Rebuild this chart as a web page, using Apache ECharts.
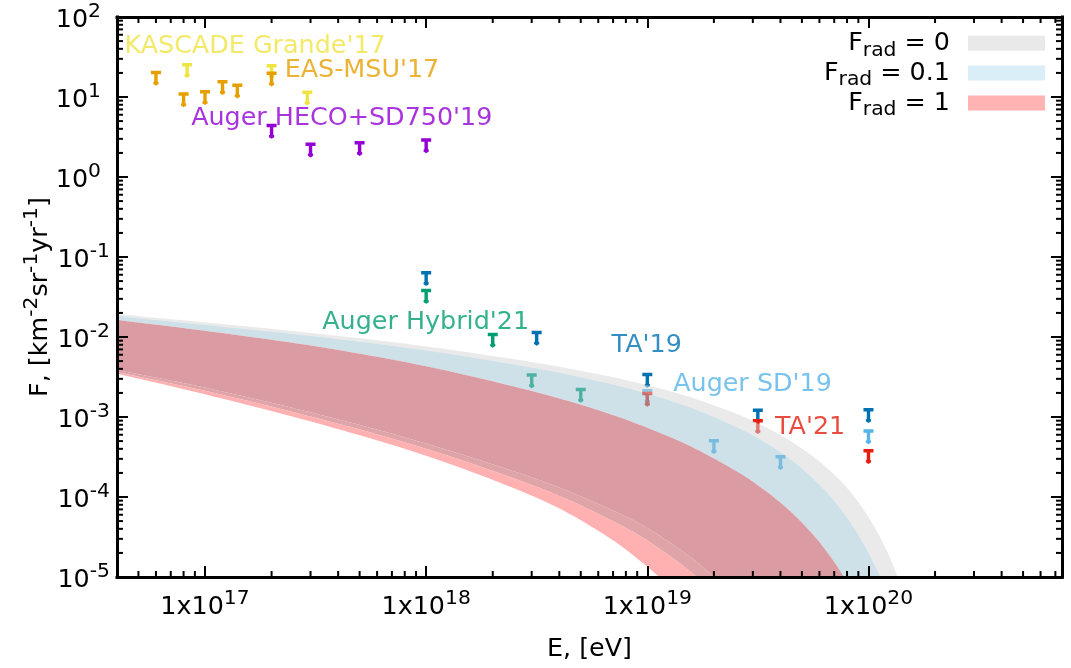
<!DOCTYPE html>
<html>
<head>
<meta charset="utf-8">
<script src="https://cdn.jsdelivr.net/npm/echarts@6/dist/echarts.min.js"></script>
<style>html,body{margin:0;padding:0;background:#fff}#chart{width:1071px;height:668px}</style>
</head>
<body>
<div id="chart"></div>
<script>
// ---------- data ----------
// band boundaries: energy samples E [eV] and flux F [km^-2 sr^-1 yr^-1]
const bandE = [3.162e16, 3.981e16, 1e17, 3.162e17, 1e18, 3.162e18, 6.310e18, 1e19, 1.585e19, 2.512e19, 3.162e19, 3.981e19, 5.012e19, 6.310e19, 7.943e19, 1e20, 1.259e20, 1.585e20];
const frad0Upper  = [2.060e-2, 1.939e-2, 1.522e-2, 1.109e-2, 7.628e-3, 4.746e-3, 3.331e-3, 2.498e-3, 1.748e-3, 1.103e-3, 8.318e-4, 5.974e-4, 4.016e-4, 2.462e-4, 1.326e-4, 5.590e-5, 1.669e-5, 2.968e-6];
const frad01Upper = [1.953e-2, 1.830e-2, 1.413e-2, 1.015e-2, 6.781e-3, 4.039e-3, 2.716e-3, 1.956e-3, 1.292e-3, 7.562e-4, 5.433e-4, 3.652e-4, 2.251e-4, 1.230e-4, 5.655e-5, 2.007e-5, 4.898e-6, 6.918e-7];
const frad1Upper  = [1.763e-2, 1.631e-2, 1.195e-2, 7.650e-3, 4.303e-3, 2.036e-3, 1.161e-3, 7.328e-4, 4.242e-4, 2.125e-4, 1.400e-4, 8.585e-5, 4.759e-5, 2.285e-5, 8.837e-6, 2.420e-6, 4.062e-7, 3.518e-8];
const frad01Lower = [4.390e-3, 3.868e-3, 2.330e-3, 1.103e-3, 4.650e-4, 1.674e-4, 7.695e-5, 4.085e-5, 1.723e-5, 5.771e-6, 3.063e-6, 1.450e-6, 5.940e-7, 2.048e-7, 5.771e-8, 1.292e-8, 2.169e-9, 2.578e-10];
const frad0Lower  = [4.181e-3, 3.652e-3, 2.125e-3, 9.772e-4, 4.004e-4, 1.341e-4, 5.754e-5, 2.851e-5, 1.135e-5, 3.589e-6, 1.799e-6, 8.035e-7, 3.108e-7, 1.012e-7, 2.692e-8, 5.689e-9, 9.016e-10, 1.012e-10];
const frad1Lower  = [4.062e-3, 3.498e-3, 1.922e-3, 8.463e-4, 3.273e-4, 9.772e-5, 3.467e-5, 1.341e-5, 4.242e-6, 1.128e-6, 5.188e-7, 2.125e-7, 7.541e-8, 2.251e-8, 5.495e-9, 1.065e-9, 1.594e-10, 1.738e-11];

// experimental upper limits
const kascadeE = [8.3e16, 2e17, 2.9e17];
const kascadeF = [26.6, 25.9, 12.1];
const easmsuE = [6e16, 8e16, 1e17, 1.2e17, 1.4e17, 2e17];
const easmsuF = [21.3, 11.5, 12.2, 16.3, 14.8, 20.8];
const hecoE = [2e17, 3e17, 5e17, 1e18];
const hecoF = [4.62, 2.70, 2.82, 3.05];
const hybridE = [1e18, 2e18, 3e18, 5e18];
const hybridF = [0.0400, 0.0113, 0.00352, 0.00232];
const ta19E = [1e18, 3.16e18, 1e19, 3.16e19, 1e20];
const ta19F = [0.0668, 0.0120, 0.00358, 0.00128, 0.00130];
const sd19E = [1e19, 2e19, 4e19, 1e20];
const sd19F = [0.00224, 0.000531, 0.000335, 0.000702];
const ta21E = [1e19, 3.16e19, 1e20];
const ta21F = [0.00207, 0.000944, 0.000398];

// axes
const xMin = 4e16, xMax = 7.5e20;
const yMin = 1e-5, yMax = 1e2;
const xMinorDecades = [16, 17, 18, 19, 20];
const yMinorDecades = [-5, -4, -3, -2, -1, 0, 1];
const minorMult = [2, 3, 4, 5, 6, 7, 8, 9];

// ---------- styling ----------
const FONT = 'DejaVu Sans';
const FS = 25.4, SFS = 20.3;
const C = {
  yellow: '#f0e442', orange: '#e69f00', purple: '#9400d3', green: '#009e73',
  blue: '#0072b2', sky: '#56b4e9', red: '#e51e10'
};

function minorList(decades, lo, hi) {
  const out = [];
  decades.forEach(d => minorMult.forEach(m => { const v = m * Math.pow(10, d); if (v > lo * 1.0001 && v < hi * 0.9999) out.push(v); }));
  return out;
}
const xMinor = minorList(xMinorDecades, xMin, xMax);
const yMinor = minorList(yMinorDecades, yMin, yMax);

function decadeExp(v) {
  const e = Math.log10(v), r = Math.round(e);
  return Math.abs(e - r) < 1e-6 ? r : null;
}

const richSup = {
  b: { fontFamily: FONT, fontSize: FS, color: '#000', verticalAlign: 'bottom' },
  s: { fontFamily: FONT, fontSize: SFS, color: '#000', verticalAlign: 'top', padding: [0, 0, 11, 0] },
  p: { fontFamily: FONT, fontSize: SFS, color: '#000', verticalAlign: 'top', padding: [0, 9, 11, 0] }
};

const axisBase = {
  type: 'log', logBase: 10,
  axisLine: { show: true, onZero: false, lineStyle: { color: '#000', width: 3, cap: 'square' } },
  axisTick: { show: true, inside: true, length: 11, lineStyle: { color: '#000', width: 2 } },
  splitLine: { show: false },
  minorTick: { show: false },
  z: 10
};

// T-shaped upper-limit marker (bar at the value, arrow pointing down)
const limitSymbol = 'path://M0 0H10V3.5H6.7V10.8L7.6 11.5V13.3L5 15L2.4 13.3V11.5L3.3 10.8V3.5H0Z';
function limitSeries(name, E, F, color) {
  return {
    type: 'scatter', name, z: 2, silent: true,
    data: E.map((e, i) => [e, F[i]]),
    symbol: limitSymbol, symbolSize: [10, 15], symbolOffset: [0, 7.5], symbolKeepAspect: false,
    itemStyle: { color, opacity: 1 }
  };
}

// smooth drawing of a boundary through its pixel points (Catmull-Rom, rendering only)
function smoothPixels(pts, seg) {
  const out = [], n = pts.length;
  for (let i = 0; i < n - 1; i++) {
    const p0 = pts[Math.max(i - 1, 0)], p1 = pts[i], p2 = pts[i + 1], p3 = pts[Math.min(i + 2, n - 1)];
    for (let k = 0; k < seg; k++) {
      const t = k / seg, t2 = t * t, t3 = t2 * t;
      const f = j => 0.5 * (2 * p1[j] + (-p0[j] + p2[j]) * t + (2 * p0[j] - 5 * p1[j] + 4 * p2[j] - p3[j]) * t2 + (-p0[j] + 3 * p1[j] - 3 * p2[j] + p3[j]) * t3);
      out.push([f(0), f(1)]);
    }
  }
  out.push(pts[n - 1]);
  return out;
}

function bandRegion(upper, lower, fill) {
  return {
    type: 'custom', coordinateSystem: 'cartesian2d', z: 3, silent: true,
    data: [[bandE[0], upper[0]]],
    renderItem: (params, api) => {
      const cs = params.coordSys;
      const up = bandE.map((e, i) => api.coord([e, upper[i]]));
      const lo = bandE.map((e, i) => api.coord([e, lower[i]]));
      const pts = smoothPixels(up, 12).concat(smoothPixels(lo, 12).reverse());
      return {
        type: 'polygon',
        shape: { points: pts },
        style: { fill: fill, stroke: null },
        clipPath: { type: 'rect', shape: { x: cs.x, y: cs.y, width: cs.width, height: cs.height } }
      };
    }
  };
}

const notes = [
  { text: "KASCADE Grande'17", color: C.yellow, at: [4.30e16, 43.4] },
  { text: "EAS-MSU'17", color: C.orange, at: [2.28e17, 21.8] },
  { text: "Auger HECO+SD750'19", color: C.purple, at: [8.61e16, 5.39] },
  { text: "Auger Hybrid'21", color: C.green, at: [3.37e17, 0.0154] },
  { text: "TA'19", color: C.blue, at: [6.86e18, 0.00783] },
  { text: "Auger SD'19", color: C.sky, at: [1.302e19, 0.002585] },
  { text: "TA'21", color: C.red, at: [3.76e19, 7.50e-4] }
];

const legendItems = [
  { name: 'F_rad = 0', color: '#e9e9e9' },
  { name: 'F_rad = 0.1', color: '#daeef7' },
  { name: 'F_rad = 1', color: '#ffb3b3' }
];

const chart = echarts.init(document.getElementById('chart'), null, { renderer: 'canvas' });
chart.setOption({
  animation: false,
  backgroundColor: '#fff',
  textStyle: { fontFamily: FONT },
  grid: { left: 117, right: 9, top: 17, bottom: 91, containLabel: false, outerBoundsMode: 'none' },
  legend: {
    show: true, orient: 'vertical', align: 'right', right: 26, top: 31, padding: 0,
    itemWidth: 77, itemHeight: 15, itemGap: 0.6, icon: 'rect', selectedMode: false,
    data: legendItems.map(l => ({ name: l.name, itemStyle: { color: l.color, borderWidth: 0 } })),
    formatter: name => '{b|F}{u|rad}{b|' + name.replace('F_rad', '') + '}',
    textStyle: {
      padding: [0, 13, 0, 0],
      rich: {
        b: { fontFamily: FONT, fontSize: FS, color: '#000', verticalAlign: 'top', padding: [5, 0, 0, 0] },
        u: { fontFamily: FONT, fontSize: SFS, color: '#000', verticalAlign: 'bottom', padding: [14.3, 0, 0, 0] }
      }
    }
  },
  xAxis: [
    Object.assign({}, axisBase, {
      position: 'bottom', min: xMin, max: xMax,
      axisLabel: {
        show: true, margin: 12,
        formatter: v => { const r = decadeExp(v); return r === null ? '' : '{b|1x10}{s|' + r + '}'; },
        rich: richSup
      },
      name: 'E, [eV]', nameLocation: 'middle', nameGap: 60, nameMoveOverlap: false,
      nameTextStyle: { fontFamily: FONT, fontSize: FS, color: '#000' }
    }),
    Object.assign({}, axisBase, { position: 'top', min: xMin, max: xMax, axisLabel: { show: false } })
  ],
  yAxis: [
    Object.assign({}, axisBase, {
      position: 'left', min: yMin, max: yMax, splitNumber: 8,
      axisLabel: {
        show: true, margin: 7,
        formatter: v => { const r = decadeExp(v); return r === null ? '' : '{b|10}{' + (r >= 0 ? 'p' : 's') + '|' + r + '}'; },
        rich: richSup
      },
      name: '{b|F, [km}{s|-2}{b|sr}{s|-1}{b|yr}{s|-1}{b|]}',
      nameLocation: 'middle', nameRotate: 90, nameGap: 64, nameMoveOverlap: false,
      nameTextStyle: { fontFamily: FONT, fontSize: FS, color: '#000', rich: richSup }
    }),
    Object.assign({}, axisBase, { position: 'right', min: yMin, max: yMax, splitNumber: 8, axisLabel: { show: false } })
  ],
  series: [
    // legend entries
    ...legendItems.map(l => ({ type: 'line', name: l.name, data: [], itemStyle: { color: l.color } })),
    // experimental limits (drawn below the translucent bands)
    limitSeries("KASCADE Grande'17", kascadeE, kascadeF, C.yellow),
    limitSeries("EAS-MSU'17", easmsuE, easmsuF, C.orange),
    limitSeries("Auger HECO+SD750'19", hecoE, hecoF, C.purple),
    limitSeries("Auger Hybrid'21", hybridE, hybridF, C.green),
    limitSeries("TA'19", ta19E, ta19F, C.blue),
    limitSeries("Auger SD'19", sd19E, sd19F, C.sky),
    limitSeries("TA'21", ta21E, ta21F, C.red),
    // band regions (F_rad = 0 / 0.1 / 1 overlaps)
    bandRegion(frad0Upper, frad01Upper, 'rgba(213,213,213,0.5)'),
    bandRegion(frad01Upper, frad1Upper, 'rgba(157,195,211,0.5)'),
    bandRegion(frad1Upper, frad01Lower, 'rgba(214,145,152,0.9)'),
    bandRegion(frad01Lower, frad0Lower, 'rgba(219,154,159,0.9)'),
    bandRegion(frad0Lower, frad1Lower, 'rgba(255,167,167,0.9)'),
    // annotations
    {
      type: 'scatter', z: 6, silent: true, symbolSize: 1, itemStyle: { color: 'rgba(0,0,0,0)' },
      data: notes.map(n => ({ value: n.at, label: { formatter: n.text, color: n.color } })),
      label: { show: true, position: 'right', distance: 0, fontFamily: FONT, fontSize: FS, align: 'left', verticalAlign: 'middle' }
    },
    // minor ticks on the four borders
    {
      type: 'custom', z: 10, silent: true,
      data: xMinor.map(v => [v, 1]),
      renderItem: (params, api) => {
        const cs = params.coordSys, x = api.coord([api.value(0), 1])[0];
        const st = { stroke: '#000', lineWidth: 2 };
        return { type: 'group', children: [
          { type: 'line', shape: { x1: x, y1: cs.y + cs.height, x2: x, y2: cs.y + cs.height - 6 }, style: st },
          { type: 'line', shape: { x1: x, y1: cs.y, x2: x, y2: cs.y + 6 }, style: st }
        ] };
      }
    },
    {
      type: 'custom', z: 10, silent: true,
      data: yMinor.map(v => [1e18, v]),
      renderItem: (params, api) => {
        const cs = params.coordSys, y = api.coord([1e18, api.value(1)])[1];
        const st = { stroke: '#000', lineWidth: 2 };
        return { type: 'group', children: [
          { type: 'line', shape: { x1: cs.x, y1: y, x2: cs.x + 6, y2: y }, style: st },
          { type: 'line', shape: { x1: cs.x + cs.width, y1: y, x2: cs.x + cs.width - 6, y2: y }, style: st }
        ] };
      }
    }
  ]
});
</script>
</body>
</html>
